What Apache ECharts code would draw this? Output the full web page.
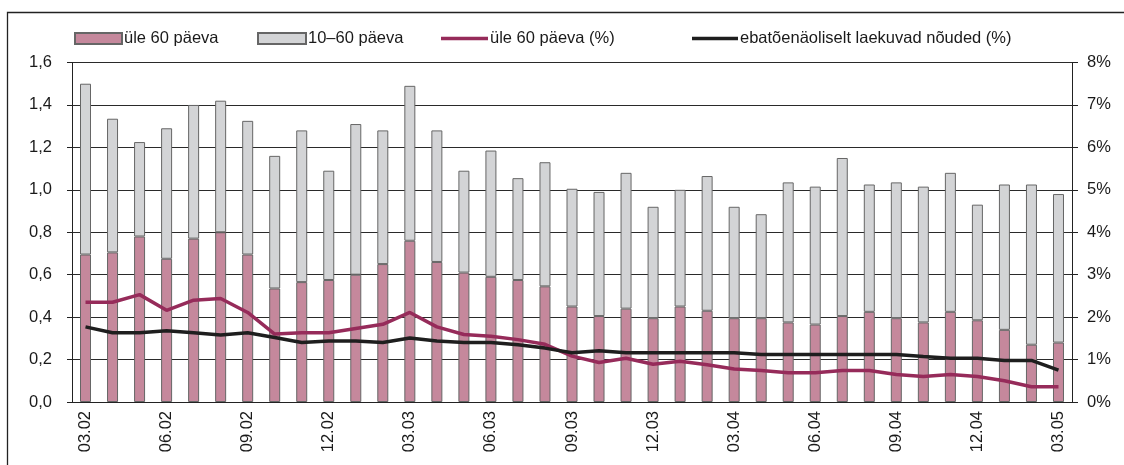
<!DOCTYPE html>
<html><head><meta charset="utf-8">
<script src="https://cdn.jsdelivr.net/npm/echarts@6/dist/echarts.min.js"></script>
<style>html,body{margin:0;padding:0;background:#fff}#c{width:1124px;height:465px}</style>
</head><body><div id="c"></div>
<script>
var categories = ["03.02","04.02","05.02","06.02","07.02","08.02","09.02","10.02","11.02","12.02","01.03","02.03",
"03.03","04.03","05.03","06.03","07.03","08.03","09.03","10.03","11.03","12.03","01.04","02.04",
"03.04","04.04","05.04","06.04","07.04","08.04","09.04","10.04","11.04","12.04","01.05","02.05","03.05"];
var over60 = [0.695,0.705,0.78,0.675,0.77,0.80,0.695,0.535,0.565,0.575,0.60,0.65,
0.76,0.66,0.61,0.59,0.575,0.545,0.45,0.405,0.44,0.395,0.45,0.43,
0.395,0.395,0.375,0.365,0.405,0.425,0.395,0.375,0.425,0.385,0.34,0.27,0.28];
var days10to60 = [0.805,0.63,0.445,0.615,0.63,0.62,0.63,0.625,0.715,0.515,0.71,0.63,
0.73,0.62,0.48,0.595,0.48,0.585,0.555,0.585,0.64,0.525,0.55,0.635,
0.525,0.49,0.66,0.65,0.745,0.60,0.64,0.64,0.655,0.545,0.685,0.755,0.70];
var over60Pct = [2.35,2.35,2.53,2.16,2.40,2.44,2.11,1.60,1.63,1.63,1.73,1.83,
2.11,1.77,1.59,1.55,1.47,1.36,1.08,0.93,1.03,0.89,0.96,0.88,
0.78,0.74,0.69,0.69,0.74,0.74,0.65,0.60,0.65,0.60,0.50,0.36,0.36];
var doubtfulPct = [1.77,1.63,1.63,1.68,1.63,1.58,1.63,1.52,1.40,1.44,1.44,1.40,
1.51,1.44,1.40,1.40,1.35,1.27,1.16,1.21,1.16,1.16,1.16,1.16,
1.16,1.12,1.12,1.12,1.12,1.12,1.12,1.07,1.03,1.03,0.98,0.98,0.75];
var names = ["üle 60 päeva","10–60 päeva","üle 60 päeva (%)","ebatõenäoliselt laekuvad nõuded (%)"];

var font = "Liberation Sans, Arial, sans-serif";
var txt = {fontFamily: font, fontSize: 16.5, color: "#1a1a1a"};
function leg(name, left, w, h, top) {
  return {data:[name], left:left, top:top, icon:'rect', itemWidth:w, itemHeight:h, itemGap:0, padding:0,
    textStyle:Object.assign({}, txt, {padding:[0,0,0,-3]})};
}
var chart = echarts.init(document.getElementById('c'), null, {renderer:'canvas'});
chart.setOption({
  animation:false,
  backgroundColor:'#fff',
  graphic:[{type:'rect', shape:{x:7.5,y:12.5,width:1300,height:700}, style:{fill:null, stroke:'#222', lineWidth:1.3}, silent:true}],
  legend:[leg(names[0],74,47,11,30), leg(names[1],257,48,11,30), leg(names[2],441,47,3.5,30), leg(names[3],692,46,3.5,30)],
  grid:{left:72, right:52, top:62.5, bottom:63, containLabel:false, outerBoundsMode:'none'},
  xAxis:{type:'category', data:categories, boundaryGap:true,
    axisLine:{lineStyle:{color:'#222', width:1}},
    axisTick:{interval:2, length:5, lineStyle:{color:'#222'}},
    axisLabel:Object.assign({interval:2, rotate:90, margin:9}, txt)},
  yAxis:[
    {type:'value', min:0, max:1.6, interval:0.2,
      axisLine:{show:true, lineStyle:{color:'#222'}},
      axisTick:{show:true, length:5, lineStyle:{color:'#222'}},
      splitLine:{show:true, lineStyle:{color:'#2a2a2a', width:1}},
      axisLabel:Object.assign({margin:20, formatter:function(v){return v.toFixed(1).replace('.',',');}}, txt)},
    {type:'value', min:0, max:8, interval:1, position:'right',
      axisLine:{show:true, lineStyle:{color:'#222'}},
      axisTick:{show:true, length:6, lineStyle:{color:'#222'}},
      splitLine:{show:false},
      axisLabel:Object.assign({margin:15, formatter:'{value}%'}, txt)}
  ],
  series:[
    {name:names[0], type:'bar', stack:'s', data:over60, barWidth:11,
      itemStyle:{color:'#c5889c', borderColor:'#666', borderWidth:1}},
    {name:names[1], type:'bar', stack:'s', data:days10to60, barWidth:11,
      itemStyle:{color:'#d3d4d6', borderColor:'#666', borderWidth:1}},
    {name:names[2], type:'line', yAxisIndex:1, data:over60Pct, symbol:'none',
      lineStyle:{color:'#962b5a', width:3.5}, itemStyle:{color:'#962b5a'}},
    {name:names[3], type:'line', yAxisIndex:1, data:doubtfulPct, symbol:'none',
      lineStyle:{color:'#1e1e1e', width:3.5}, itemStyle:{color:'#1e1e1e'}}
  ]
});
</script></body></html>
